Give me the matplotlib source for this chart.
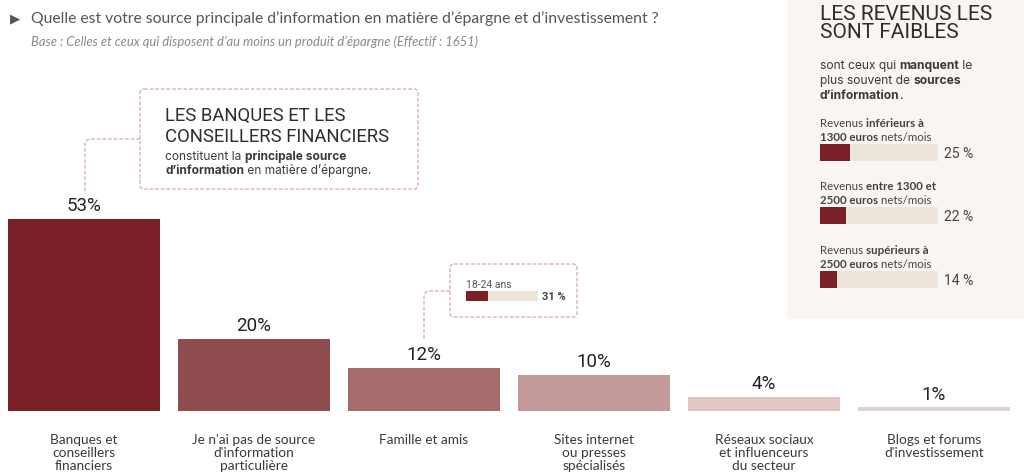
import matplotlib
matplotlib.use('Agg')

from matplotlib import pyplot as plt
from matplotlib.patches import FancyBboxPatch, Rectangle
from matplotlib.path import Path
from matplotlib.patches import PathPatch

# donnees
categories = ["Banques et\nconseillers\nfinanciers",
              "Je n'ai pas de source\nd'information\nparticulière",
              "Famille et amis",
              "Sites internet\nou presses\nspécialisés",
              "Réseaux sociaux\net influenceurs\ndu secteur",
              "Blogs et forums\nd'investissement"]
values = [53, 20, 12, 10, 4, 1]
bar_colors = ["#7a2128", "#8f4c4f", "#a66b6a", "#c49b9a", "#e0c6c5", "#dcd3d2"]

age_label = "18-24 ans"
age_value = 31

income_labels = [[("Revenus ", "normal"), ("inférieurs à", "bold")],
                 [("Revenus ", "normal"), ("entre 1300 et", "bold")],
                 [("Revenus ", "normal"), ("supérieurs à", "bold")]]
income_labels2 = [[("1300 euros", "bold"), (" nets/mois", "normal")],
                  [("2500 euros", "bold"), (" nets/mois", "normal")],
                  [("2500 euros", "bold"), (" nets/mois", "normal")]]
income_values = [25, 22, 14]

W, H = 1024, 477
dark = "#7a2128"
track = "#ede4da"
txt = "#3a3a3a"
body_font = "Inter"

fig = plt.figure(figsize=(W / 100, H / 100), dpi=100)
fig.patch.set_facecolor("white")

# axe principal : barres
ax = fig.add_axes([0, 65 / H, 1, 1 - 65 / H])
x = list(range(len(values)))
ax.bar(x, values, width=0.894, color=bar_colors, zorder=2)
ax.set_xlim(-84 / 170, 5 + 90 / 170)
ax.set_ylim(0, 412 / 3.62)
for xi, v in zip(x, values):
    ax.text(xi, v + 1.3, "%d%%" % v, ha="center", va="bottom",
            fontsize=13.5, family="Roboto", color="#222222")
ax.set_xticks(x)
ax.set_xticklabels(categories, fontsize=9.8, family="Lato", color=txt,
                   linespacing=1.1, va="top")
ax.tick_params(size=0, pad=16)
ax.set_yticks([])
for s in ax.spines.values():
    s.set_visible(False)
ax.patch.set_alpha(0)

# calque en pixels pour les annotations
ov = fig.add_axes([0, 0, 1, 1], zorder=-1)
ov.set_xlim(0, W)
ov.set_ylim(H, 0)
ov.axis("off")
ov.add_patch(Rectangle((787, 0), W - 787, 320, facecolor="#f8f5f2",
                       edgecolor="none"))

ov2 = fig.add_axes([0, 0, 1, 1], zorder=3)
ov2.set_xlim(0, W)
ov2.set_ylim(H, 0)
ov2.axis("off")
ov2.patch.set_alpha(0)

renderer = fig.canvas.get_renderer()


def width_of(s, size, family, w):
    t0 = ov2.text(0, 0, s + "|", fontsize=size, family=family, fontweight=w)
    t1 = ov2.text(0, 0, "|", fontsize=size, family=family, fontweight=w)
    d = t0.get_window_extent(renderer).width - t1.get_window_extent(renderer).width
    t0.remove()
    t1.remove()
    return d


def rich(px, py, segs, size, family=body_font, color=txt):
    cx = px
    for s, w in segs:
        ov2.text(cx, py, s, fontsize=size, family=family, fontweight=w,
                 color=color, va="baseline", ha="left")
        cx += width_of(s, size, family, w)


dash_col = "#d7a9aa"


def dashed_box(x0, y0, w, h):
    ov2.add_patch(FancyBboxPatch((x0, y0), w, h,
                                 boxstyle="round,pad=0,rounding_size=4",
                                 facecolor="white", edgecolor=dash_col,
                                 linewidth=0.9, linestyle=(0, (3, 1.5))))


def connector(xb, yb, xe, ye):
    r = 6
    verts = [(xb, yb), (xe + r, yb), (xe, yb), (xe, yb + r), (xe, ye)]
    codes = [Path.MOVETO, Path.LINETO, Path.CURVE3, Path.CURVE3, Path.LINETO]
    ov2.add_patch(PathPatch(Path(verts, codes), facecolor="none",
                            edgecolor=dash_col, linewidth=0.9,
                            linestyle=(0, (3, 1.5))))


# titre
ov2.text(10, 19, "\u25B6", fontsize=9.5, color="#555555", va="center",
         family="DejaVu Sans")
ov2.text(31, 19, "Quelle est votre source principale d\u2019information en matière "
         "d\u2019épargne et d\u2019investissement ?", fontsize=11.3, color="#555555",
         va="center", family="Lato")
ov2.text(31, 42, "Base : Celles et ceux qui disposent d\u2019au moins un produit "
         "d\u2019épargne (Effectif : 1651)", fontsize=9.4, color="#8a8a8a",
         va="center", family="Lato", style="italic")

# encadre banques
connector(140, 140, 85, 195)
dashed_box(140, 90, 278, 100)
ov2.text(165, 121, "LES BANQUES ET LES", fontsize=13.3, family="Roboto",
         color="#2e2e2e", va="baseline")
ov2.text(165, 142, "CONSEILLERS FINANCIERS", fontsize=13.3, family="Roboto",
         color="#2e2e2e", va="baseline")
rich(165, 160, [("constituent la ", "normal"), ("principale source", "bold")], 8.6)
rich(165, 174, [("d\u2019information", "bold"), (" en matière d\u2019épargne.", "normal")], 8.6)

# encadre 18-24 ans
connector(450, 292, 424, 340)
dashed_box(450, 265, 127, 53)
ov2.text(466, 288, age_label, fontsize=7.5, family="Roboto", color="#555555",
         va="baseline")
iax = fig.add_axes([466 / W, 1 - 302 / H, 72 / W, 10 / H], zorder=4)
iax.barh([0], [100], height=1, color=track)
iax.barh([0], [age_value], height=1, color=dark)
iax.set_xlim(0, 100)
iax.set_ylim(-0.5, 0.5)
iax.axis("off")
ov2.text(542, 297, "%d %%" % age_value, fontsize=8, family="Roboto",
         fontweight="bold", color="#444444", va="center")

# panneau revenus
ov2.text(820, 14, "LES REVENUS LES", fontsize=15, family="Roboto",
         color="#2e2e2e", va="center")
ov2.text(820, 32, "SONT FAIBLES", fontsize=15, family="Roboto",
         color="#2e2e2e", va="center")
rich(820, 69, [("sont ceux qui ", "normal"), ("manquent", "bold"), (" le", "normal")], 8.7)
rich(820, 84, [("plus souvent de ", "normal"), ("sources", "bold")], 8.7)
rich(820, 99, [("d\u2019information", "bold"), (".", "normal")], 8.7)

tops = [145, 208, 272]
for i, (l1, l2, v) in enumerate(zip(income_labels, income_labels2, income_values)):
    yt = tops[i]
    rich(820, yt - 18, l1, 8.3, family="Lato", color="#444444")
    rich(820, yt - 4, l2, 8.3, family="Lato", color="#444444")
    bax = fig.add_axes([820 / W, 1 - (yt + 17) / H, 118 / W, 17 / H], zorder=4)
    bax.barh([0], [100], height=1, color=track)
    bax.barh([0], [v], height=1, color=dark)
    bax.set_xlim(0, 100)
    bax.set_ylim(-0.5, 0.5)
    bax.axis("off")
    ov2.text(944, yt + 9, "%d %%" % v, fontsize=10, family="Roboto",
             color="#444444", va="center")

fig.savefig("out.png", dpi=100)
